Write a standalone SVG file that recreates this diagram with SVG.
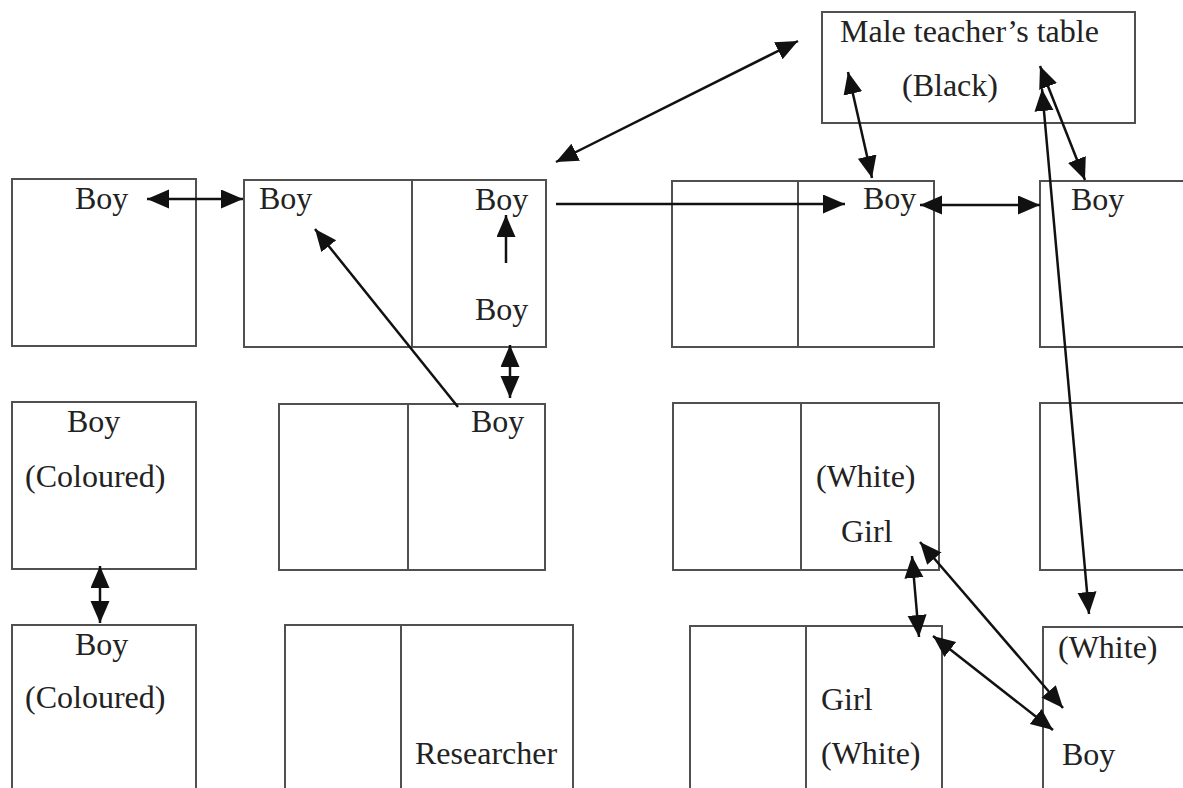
<svg xmlns="http://www.w3.org/2000/svg" width="1183" height="788" viewBox="0 0 1183 788">
<style>
.box{fill:none;stroke:#505050;stroke-width:2}
.div{stroke:#505050;stroke-width:2}
.t{font-family:"Liberation Serif","Times New Roman",serif;font-size:32px;fill:#222}
.c{stroke:#111;stroke-width:2.5;fill:none}
.d{marker-start:url(#ah);marker-end:url(#ah)}
.s{marker-end:url(#ah)}
</style>
<defs>
<marker id="ah" markerUnits="userSpaceOnUse" markerWidth="23" markerHeight="20" refX="22" refY="9.5" orient="auto-start-reverse" viewBox="0 0 23 20">
<path d="M0,0 L22,9.5 L0,19 z" fill="#111"/>
</marker>
</defs>
<rect width="1183" height="788" fill="#fff"/>
<g id="teacher-table">
<rect class="box" x="822" y="12" width="313" height="111"/>
<text class="t" x="840" y="42">Male teacher’s table</text>
<text class="t" x="902" y="96">(Black)</text>
</g>
<g id="desk-a">
<rect class="box" x="12" y="179" width="184" height="167"/>
<text class="t" x="75" y="209">Boy</text>
</g>
<g id="desk-b">
<rect class="box" x="244" y="180" width="302" height="167"/>
<line class="div" x1="412" y1="180" x2="412" y2="347"/>
<text class="t" x="259" y="209">Boy</text>
<text class="t" x="475" y="210">Boy</text>
<text class="t" x="475" y="320">Boy</text>
</g>
<g id="desk-c">
<rect class="box" x="672" y="181" width="262" height="166"/>
<line class="div" x1="798" y1="181" x2="798" y2="347"/>
<text class="t" x="863" y="209">Boy</text>
</g>
<g id="desk-d">
<rect class="box" x="1040" y="181" width="160" height="166"/>
<text class="t" x="1071" y="210">Boy</text>
</g>
<g id="desk-e">
<rect class="box" x="12" y="402" width="184" height="167"/>
<text class="t" x="67" y="432">Boy</text>
<text class="t" x="25" y="487">(Coloured)</text>
</g>
<g id="desk-f">
<rect class="box" x="279" y="404" width="266" height="166"/>
<line class="div" x1="408" y1="404" x2="408" y2="570"/>
<text class="t" x="471" y="432">Boy</text>
</g>
<g id="desk-g">
<rect class="box" x="673" y="403" width="266" height="167"/>
<line class="div" x1="801" y1="403" x2="801" y2="570"/>
<text class="t" x="816" y="487">(White)</text>
<text class="t" x="841" y="542">Girl</text>
</g>
<g id="desk-h">
<rect class="box" x="1040" y="403" width="160" height="167"/>
</g>
<g id="desk-i">
<rect class="box" x="12" y="625" width="184" height="190"/>
<text class="t" x="75" y="655">Boy</text>
<text class="t" x="25" y="708">(Coloured)</text>
</g>
<g id="desk-j">
<rect class="box" x="285" y="625" width="288" height="190"/>
<line class="div" x1="401" y1="625" x2="401" y2="800"/>
<text class="t" x="415" y="764">Researcher</text>
</g>
<g id="desk-k">
<rect class="box" x="690" y="626" width="252" height="190"/>
<line class="div" x1="806" y1="626" x2="806" y2="800"/>
<text class="t" x="821" y="710">Girl</text>
<text class="t" x="821" y="764">(White)</text>
</g>
<g id="desk-l">
<rect class="box" x="1043" y="627" width="160" height="190"/>
<text class="t" x="1058" y="658">(White)</text>
<text class="t" x="1062" y="765">Boy</text>
</g>
<g id="connectors">
<line class="c d" x1="147" y1="199" x2="243" y2="199"/>
<line class="c d" x1="556" y1="162" x2="798" y2="41"/>
<line class="c s" x1="556" y1="204" x2="845" y2="204"/>
<line class="c d" x1="848" y1="72" x2="872" y2="178"/>
<line class="c d" x1="920" y1="205" x2="1040" y2="205"/>
<line class="c d" x1="1040" y1="66" x2="1085" y2="180"/>
<line class="c d" x1="1042" y1="89" x2="1089" y2="614"/>
<line class="c s" x1="506" y1="263" x2="506" y2="215"/>
<line class="c s" x1="458" y1="407" x2="315" y2="229"/>
<line class="c d" x1="510" y1="345" x2="510" y2="398"/>
<line class="c d" x1="100" y1="566" x2="100" y2="623"/>
<line class="c d" x1="912" y1="556" x2="919" y2="637"/>
<line class="c d" x1="920" y1="542" x2="1063" y2="708"/>
<line class="c d" x1="933" y1="636" x2="1053" y2="730"/>
</g>
</svg>
